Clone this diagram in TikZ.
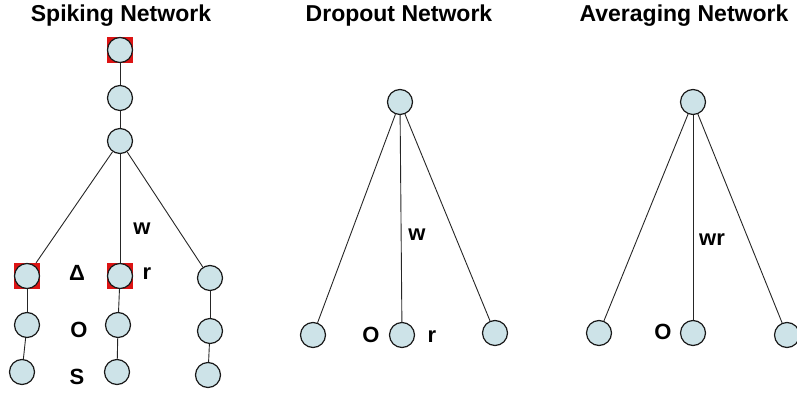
\documentclass[tikz,border=0pt]{standalone}
\usepackage{fontspec}
\setmainfont{Liberation Sans}
\definecolor{nfill}{RGB}{205,227,232}
\definecolor{sqred}{RGB}{220,20,20}
\begin{document}
\begin{tikzpicture}[x=1pt,y=-1pt,
  neuron/.style={circle,draw=black!90,line width=1.2pt,fill=nfill,minimum size=25pt,inner sep=0pt},
  spikesq/.style={rectangle,fill=sqred,minimum size=26pt,inner sep=0pt},
  title/.style={font=\fontsize{23}{26}\selectfont\bfseries,anchor=base,inner sep=0pt},
  lab/.style={font=\fontsize{22}{25}\selectfont\bfseries,inner sep=0pt},
  conn/.style={draw=black!85,line width=0.9pt}]
\useasboundingbox (0,0) rectangle (797,393);
\begin{scope}
\clip (0,0) rectangle (797,393);
% titles
\node[title] (t1) at (121,22) {Spiking Network};
\node[title] (t2) at (399,22) {Dropout Network};
\node[title] (t3) at (684,22) {Averaging Network};
% spiking network
\node[spikesq] (a1s) at (120,50) {};
\node[neuron] (a1) at (120,50) {};
\node[neuron] (a2) at (120,98) {};
\node[neuron] (a3) at (120,141) {};
\node[spikesq] (l1s) at (27,276) {};
\node[neuron] (l1) at (27,276) {};
\node[neuron] (l2) at (27,325) {};
\node[neuron] (l3) at (22,372) {};
\node[spikesq] (m1s) at (120,276) {};
\node[neuron] (m1) at (120,276) {};
\node[neuron] (m2) at (118,325) {};
\node[neuron] (m3) at (117,372) {};
\node[neuron] (r1) at (210,278) {};
\node[neuron] (r2) at (210,331) {};
\node[neuron] (r3) at (208,375) {};
\draw[conn] (a1s) -- (a2);
\draw[conn] (a2) -- (a3);
\draw[conn] (a3) -- (l1s);
\draw[conn] (a3) -- (m1s);
\draw[conn] (a3) -- (r1);
\draw[conn] (l1s) -- (l2);
\draw[conn] (l2) -- (l3);
\draw[conn] (m1s) -- (m2);
\draw[conn] (m2) -- (m3);
\draw[conn] (r1) -- (r2);
\draw[conn] (r2) -- (r3);
\node[lab] (lw) at (142,229) {w};
\node[lab] (ld) at (77,273) {Δ};
\node[lab] (lr) at (147,274) {r};
\node[lab] (lo) at (79,330) {O};
\node[lab] (ls) at (77,377) {S};
% dropout network
\node[neuron] (d0) at (400,102) {};
\node[neuron] (d1) at (313,335) {};
\node[neuron] (d2) at (402,335) {};
\node[neuron] (d3) at (495,333) {};
\draw[conn] (d0) -- (d1);
\draw[conn] (d0) -- (d2);
\draw[conn] (d0) -- (d3);
\node[lab] (dw) at (417,235) {w};
\node[lab] (do) at (371,335) {O};
\node[lab] (dr) at (432,337) {r};
% averaging network
\node[neuron] (v0) at (693,102) {};
\node[neuron] (v1) at (599,333) {};
\node[neuron] (v2) at (693,333) {};
\node[neuron] (v3) at (787,335) {};
\draw[conn] (v0) -- (v1);
\draw[conn] (v0) -- (v2);
\draw[conn] (v0) -- (v3);
\node[lab] (vw) at (712,240) {wr};
\node[lab] (vo) at (663,332) {O};
\end{scope}
\end{tikzpicture}
\end{document}
